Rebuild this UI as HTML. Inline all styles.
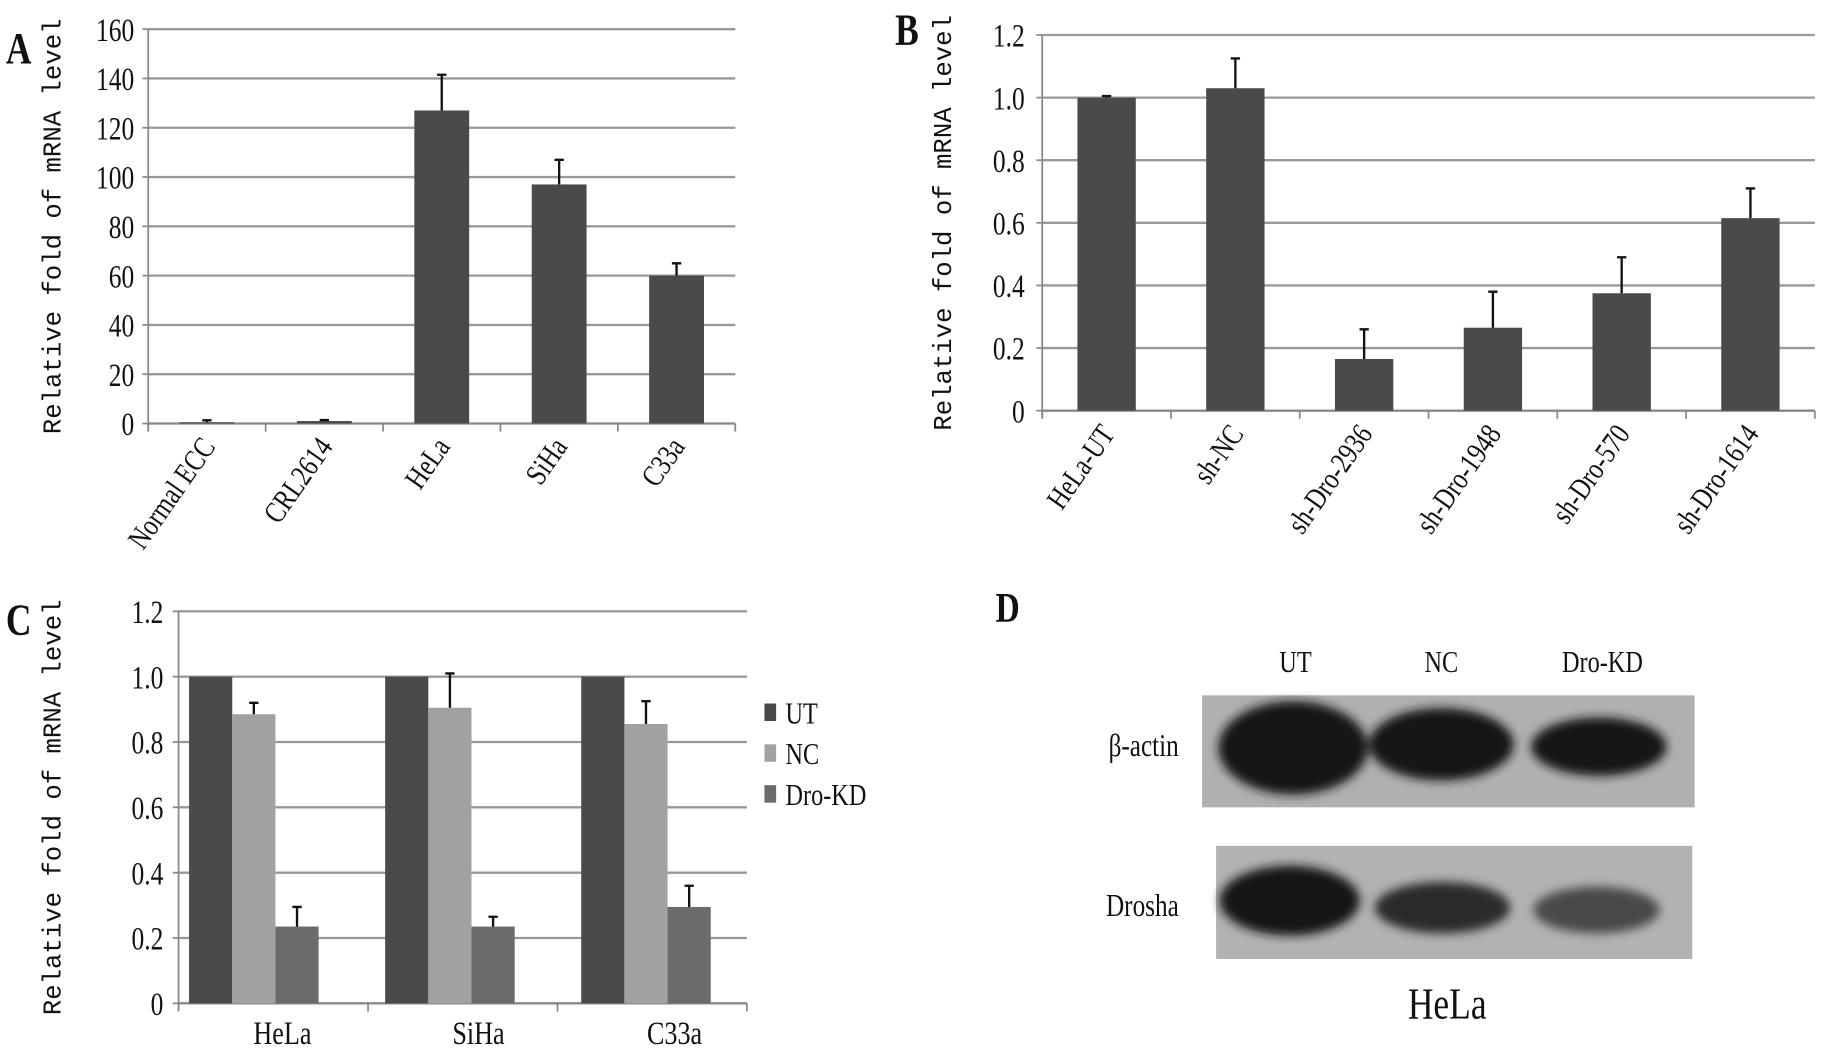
<!DOCTYPE html>
<html><head><meta charset="utf-8"><style>
html,body{margin:0;padding:0;background:#fff;width:1830px;height:1050px;overflow:hidden}
svg{display:block}
text{font-family:"Liberation Serif",serif;fill:#111}
.mono{font-family:"Liberation Mono",monospace}
</style></head><body>
<svg id="fig" width="1830" height="1050" viewBox="0 0 1568 900" preserveAspectRatio="none" xmlns="http://www.w3.org/2000/svg">
<defs><filter id="blur" x="-30%" y="-30%" width="160%" height="160%"><feGaussianBlur stdDeviation="4"/></filter></defs>
<g id="A"></g>
<g id="B"></g>
<g id="C"></g>
<g id="D">
<text transform="translate(853 533) scale(0.8 1)" font-size="36" font-weight="bold">D</text>
<text transform="translate(1110 576) scale(0.8 1)" font-size="26" text-anchor="middle">UT</text>
<text transform="translate(1235 576) scale(0.8 1)" font-size="26" text-anchor="middle">NC</text>
<text transform="translate(1373 576) scale(0.8 1)" font-size="26" text-anchor="middle">Dro-KD</text>
<rect x="1030" y="596" width="422" height="96" fill="#b0b0b0"/>
<g filter="url(#blur)" fill="#151515">
<ellipse cx="1108" cy="641" rx="64" ry="40"/><ellipse cx="1235" cy="638" rx="62" ry="31"/><ellipse cx="1370" cy="640" rx="58" ry="25"/>
</g>
<rect x="1042" y="725" width="408" height="97" fill="#b2b2b2"/>
<g filter="url(#blur)">
<ellipse cx="1105" cy="772" rx="60" ry="30" fill="#161616"/><ellipse cx="1236" cy="778" rx="58" ry="22" fill="#2a2a2a"/><ellipse cx="1368" cy="780" rx="54" ry="20" fill="#4a4a4a"/>
</g>
<text transform="translate(1010 648) scale(0.8 1)" font-size="27" text-anchor="end">β-actin</text>
<text transform="translate(1010 785) scale(0.8 1)" font-size="27" text-anchor="end">Drosha</text>
<text transform="translate(1240 873) scale(0.8 1)" font-size="38" text-anchor="middle">HeLa</text>
</g>
</svg>
<script>
// Panel A data
const aCats = ["Normal ECC","CRL2614","HeLa","SiHa","C33a"];
const aVals = [0.5,1,127,97,60];
const aErr = [0.8,0.4,14.5,10,5];
const aTicks = [0,20,40,60,80,100,120,140,160];
// Panel B data
const bCats = ["HeLa-UT","sh-NC","sh-Dro-2936","sh-Dro-1948","sh-Dro-570","sh-Dro-1614"];
const bVals = [1.0,1.03,0.165,0.265,0.375,0.615];
const bErr = [0.005,0.095,0.095,0.115,0.115,0.095];
const bTicks = ["0","0.2","0.4","0.6","0.8","1.0","1.2"];
// Panel C data
const cCats = ["HeLa","SiHa","C33a"];
const cSeries = ["UT","NC","Dro-KD"];
const cUT = [1,1,1];
const cNC = [0.885,0.905,0.855];
const cKD = [0.235,0.235,0.295];
const cNCErr = [0.035,0.105,0.07];
const cKDErr = [0.06,0.03,0.065];
const cTicks = ["0","0.2","0.4","0.6","0.8","1.0","1.2"];

const NS="http://www.w3.org/2000/svg";
function mk(parent,tag,attrs,txt){const e=document.createElementNS(NS,tag);for(const k in attrs)e.setAttribute(k,attrs[k]);if(txt!==undefined)e.textContent=txt;parent.appendChild(e);return e;}

function axesFrame(g,x0,x1,yTop,yBot,ticks,max,tickX,title,titleX,letter,lx,ly,nCats){
  const y=v=>yBot-(v/max)*(yBot-yTop);
  ticks.forEach((t,i)=>{
    const v=parseFloat(t);
    if(v>0){const l=mk(g,'line',{x1:x0,x2:x1,y1:y(v),y2:y(v),stroke:'#999','stroke-width':2});
      
      }
    const tx=mk(g,'text',{transform:`translate(${tickX} ${y(v)+10}) scale(0.78 1)`,'font-size':28,'text-anchor':'end'},String(t));
    
    
    const tk=mk(g,'line',{x1:x0-5,x2:x0,y1:y(v),y2:y(v),stroke:'#888','stroke-width':1.5});
    
    
  });
  const ya=mk(g,'line',{x1:x0,x2:x0,y1:yTop,y2:yBot+6,stroke:'#888','stroke-width':1.5});
  
  
  const xa=mk(g,'line',{x1:x0,x2:x1,y1:yBot,y2:yBot,stroke:'#888','stroke-width':2});
  
  
  for(let i=0;i<=nCats;i++){const xt=x0+i*(x1-x0)/nCats;
    const t=mk(g,'line',{x1:xt,x2:xt,y1:yBot,y2:yBot+7,stroke:'#888','stroke-width':1.5});
    
    }
  const ty=(yTop+yBot)/2;
  const tt=mk(g,'text',{x:titleX,y:ty,'font-size':22,'text-anchor':'middle',class:'mono',transform:`rotate(-90 ${titleX} ${ty})`},title);
  
  
  const lt=mk(g,'text',{transform:`translate(${lx} ${ly}) scale(0.8 1)`,'font-size':38,'font-weight':'bold'},letter);
  
  
  return y;
}

function simpleBars(g,cats,vals,errs,x0,x1,yBot,y,bw,name){
  const cw=(x1-x0)/cats.length;
  cats.forEach((c,i)=>{
    const cx=x0+cw*(i+0.5);
    const r=mk(g,'rect',{x:cx-bw/2,y:y(vals[i]),width:bw,height:yBot-y(vals[i]),fill:'#4a4a4a'});
    
    
    const e=mk(g,'path',{d:`M${cx} ${y(vals[i])}V${y(vals[i]+errs[i])}M${cx-4} ${y(vals[i]+errs[i])}H${cx+4}`,stroke:'#111','stroke-width':2,fill:'none'});
    
    
    const lx=cx+8, ly=yBot+20;
    const t=mk(g,'text',{transform:`translate(${lx} ${ly}) rotate(-55) scale(0.8 1)`,'font-size':26,'text-anchor':'end'},c);
    
    
  });
}

// Panel A
const gA=document.getElementById('A');
const yA=axesFrame(gA,127,630,25,363,aTicks,160,115,'Relative fold of mRNA level',52,'A',5,54,5);
simpleBars(gA,aCats,aVals,aErr,127,630,363,yA,47,'a');

// Panel B
const gB=document.getElementById('B');
const yB=axesFrame(gB,893,1555,30,352,bTicks,1.2,878,'Relative fold of mRNA level',815,'B',767,38,6);
simpleBars(gB,bCats,bVals,bErr,893,1555,352,yB,50,'b');

// Panel C
const gC=document.getElementById('C');
const yC=axesFrame(gC,153,640,524,860,cTicks,1.2,140,'Relative fold of mRNA level',52,'C',5,544,3);
const cols=['#4a4a4a','#a2a2a2','#6b6b6b'];
const cData=[cUT,cNC,cKD];
const cErrs=[null,cNCErr,cKDErr];
cCats.forEach((c,i)=>{
  const gs=162+i*168, bw=37;
  cData.forEach((s,j)=>{
    const bx=gs+j*bw;
    const r=mk(gC,'rect',{x:bx,y:yC(s[i]),width:bw,height:860-yC(s[i]),fill:cols[j]});
    
    
    if(cErrs[j]){const cx=bx+bw/2,v=s[i],e=cErrs[j][i];
      const p=mk(gC,'path',{d:`M${cx} ${yC(v)}V${yC(v+e)}M${cx-4} ${yC(v+e)}H${cx+4}`,stroke:'#111','stroke-width':2,fill:'none'});
      
      }
  });
  const t=mk(gC,'text',{transform:`translate(${gs+80} 895) scale(0.8 1)`,'font-size':28,'text-anchor':'middle'},c);
  
  
});
cSeries.forEach((s,j)=>{
  const ly=603+j*35;
  const r=mk(gC,'rect',{x:655,y:ly,width:10,height:15,fill:cols[j]});
  
  
  const t=mk(gC,'text',{transform:`translate(673 ${ly+17}) scale(0.8 1)`,'font-size':26},s);
  
  
});
</script>
</body></html>
